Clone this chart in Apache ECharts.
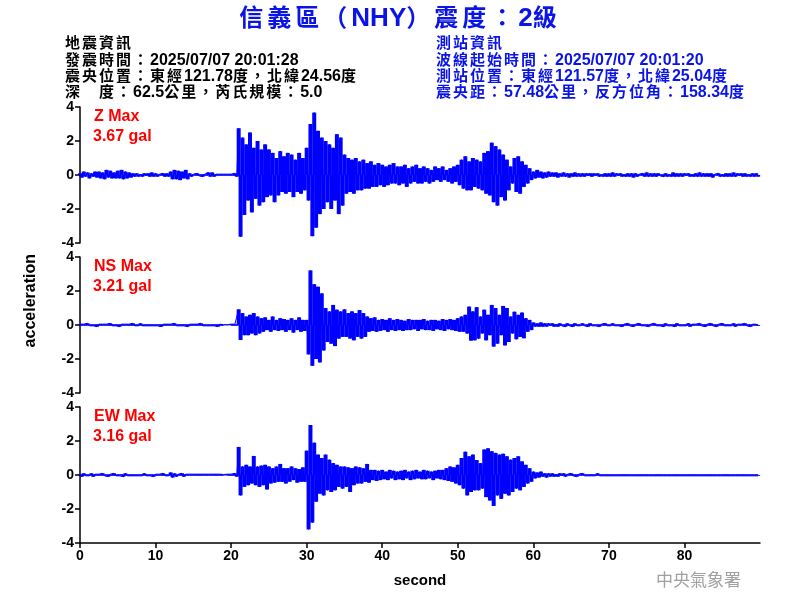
<!DOCTYPE html>
<html>
<head>
<meta charset="utf-8">
<script src="https://cdn.jsdelivr.net/npm/echarts@6/dist/echarts.min.js"></script>
<style>html,body{margin:0;padding:0;background:#fff}#c{width:800px;height:600px}</style>
</head>
<body>
<div id="c"></div>
<script>
// sample spacing of the values below (seconds)
var DT = 0.25;
var xTicks = [0, 10, 20, 30, 40, 50, 60, 70, 80];
var yTicks = [-4, -2, 0, 2, 4];
var panelNames = ['Z Max', 'NS Max', 'EW Max'];
var panelMax = ['3.67 gal', '3.21 gal', '3.16 gal'];

// Z component, one line = 2.5 s
var zValues = [
0.1,-0.15,0.2,-0.1,0.15,-0.2,0.1,-0.1,0.2,-0.15,
0.2,-0.2,0.15,-0.25,0.3,-0.15,0.25,-0.2,0.15,-0.2,
0.25,-0.2,0.3,-0.25,0.2,-0.2,0.15,-0.15,0.1,-0.1,
0.1,-0.1,0.05,-0.1,0.1,-0.05,0.1,-0.1,0.15,-0.1,
0.1,-0.1,0.05,-0.05,0.1,-0.1,0.1,-0.1,0.2,-0.25,
0.3,-0.25,0.25,-0.3,0.2,-0.2,0.3,-0.25,0.1,-0.1,
0.05,-0.05,0.1,-0.05,0.05,-0.1,0.05,-0.05,0.15,-0.1,
0.15,-0.1,0.05,-0.05,0.05,-0.05,0.05,-0.05,0.05,-0.05,
0.05,-0.05,0.1,-0.1,2.75,-3.63,2.2,-2.35,1.8,-1.5,
2.5,-2.2,1.6,-1.4,2.0,-1.8,1.5,-1.6,1.8,-1.3,
1.5,-1.2,1.3,-1.6,1.0,-1.2,1.4,-1.0,1.1,-1.1,
1.3,-1.0,1.2,-1.3,0.9,-1.0,1.3,-1.1,1.0,-0.9,
1.6,-1.5,3.0,-3.6,3.67,-3.1,2.6,-2.3,2.2,-2.0,
2.0,-1.6,1.8,-2.0,1.6,-1.5,2.4,-2.3,2.2,-1.8,
1.2,-1.1,1.0,-1.0,0.9,-1.1,1.0,-0.9,0.8,-0.9,
0.9,-0.8,0.7,-0.8,0.8,-0.7,0.6,-0.7,0.7,-0.6,
0.6,-0.7,0.5,-0.6,0.6,-0.5,0.7,-0.5,0.5,-0.6,
0.5,-0.5,0.6,-0.7,0.4,-0.5,0.5,-0.4,0.6,-0.5,
0.4,-0.5,0.5,-0.4,0.4,-0.5,0.3,-0.4,0.5,-0.3,
0.4,-0.4,0.5,-0.3,0.3,-0.4,0.4,-0.5,0.5,-0.4,
0.6,-0.6,0.9,-0.8,1.1,-0.9,0.8,-0.9,1.0,-0.7,
0.9,-0.8,0.8,-0.9,1.3,-1.1,1.4,-1.2,1.9,-1.6,
1.7,-1.8,1.5,-1.3,1.2,-1.5,0.9,-0.9,0.5,-0.5,
1.0,-1.0,1.1,-1.1,0.8,-0.7,0.6,-0.5,0.4,-0.3,
0.2,-0.2,0.3,-0.15,0.2,-0.2,0.15,-0.15,0.2,-0.1,
0.15,-0.1,0.15,-0.15,0.1,-0.1,0.15,-0.1,0.1,-0.15,
0.1,-0.1,0.15,-0.1,0.1,-0.1,0.1,-0.1,0.1,-0.05,
0.1,-0.1,0.1,-0.05,0.1,-0.1,0.05,-0.1,0.1,-0.1,
0.1,-0.1,0.15,-0.1,0.1,-0.05,0.1,-0.1,0.05,-0.1,
0.1,-0.1,0.1,-0.15,0.1,-0.1,0.05,-0.05,0.1,-0.1,
0.15,-0.1,0.1,-0.1,0.1,-0.1,0.1,-0.05,0.05,-0.1,
0.1,-0.1,0.05,-0.1,0.15,-0.1,0.1,-0.1,0.1,-0.1,
0.1,-0.05,0.1,-0.1,0.05,-0.1,0.1,-0.1,0.15,-0.1,
0.1,-0.1,0.1,-0.1,0.1,-0.15,0.05,-0.05,0.1,-0.1,
0.05,-0.1,0.1,-0.1,0.1,-0.1,0.15,-0.1,0.1,-0.05,
0.1,-0.1,0.1,-0.1,0.05,-0.1,0.1,-0.1,0.1,-0.1
];

// NS component
var nsValues = [
0.05,-0.05,0.05,-0.05,0.1,-0.05,0.05,-0.05,0.05,-0.1,
0.05,-0.05,0.05,-0.05,0.05,-0.05,0.1,-0.05,0.05,-0.05,
0.05,-0.1,0.05,-0.05,0.05,-0.05,0.05,-0.05,0.1,-0.05,
0.05,-0.05,0.1,-0.05,0.05,-0.05,0.05,-0.05,0.05,-0.05,
0.05,-0.05,0.05,-0.1,0.05,-0.05,0.05,-0.05,0.05,-0.05,
0.1,-0.05,0.05,-0.05,0.05,-0.05,0.05,-0.1,0.05,-0.05,
0.05,-0.05,0.05,-0.05,0.1,-0.05,0.05,-0.05,0.05,-0.05,
0.05,-0.05,0.05,-0.1,0.05,-0.05,0.02,-0.02,0.02,-0.02,
0.05,-0.05,0.05,-0.05,0.92,-0.88,0.7,-0.6,0.5,-0.6,
0.6,-0.5,0.7,-0.6,0.5,-0.5,0.4,-0.4,0.45,-0.3,
0.3,-0.4,0.5,-0.3,0.3,-0.35,0.4,-0.3,0.35,-0.4,
0.3,-0.3,0.4,-0.45,0.3,-0.3,0.45,-0.4,0.3,-0.35,
0.3,-1.73,3.21,-2.4,2.4,-2.0,2.25,-2.2,1.86,-1.5,
1.0,-1.0,0.8,-1.1,1.18,-1.24,0.9,-0.8,0.8,-0.7,
0.92,-0.7,0.7,-0.8,0.8,-0.9,0.7,-0.7,0.88,-0.8,
0.7,-0.7,0.5,-0.4,0.4,-0.35,0.45,-0.4,0.3,-0.35,
0.35,-0.3,0.3,-0.4,0.4,-0.3,0.3,-0.35,0.35,-0.3,
0.3,-0.35,0.25,-0.3,0.35,-0.3,0.3,-0.25,0.3,-0.35,
0.3,-0.25,0.35,-0.3,0.25,-0.3,0.3,-0.35,0.3,-0.25,
0.25,-0.3,0.35,-0.35,0.3,-0.25,0.35,-0.3,0.3,-0.35,
0.4,-0.4,0.5,-0.4,0.6,-0.5,1.08,-0.92,0.8,-0.9,
1.05,-0.8,0.5,-0.5,0.9,-0.9,0.6,-0.6,1.18,-1.27,
1.0,-1.1,0.6,-0.6,1.12,-1.2,1.0,-1.0,0.5,-0.5,
0.78,-0.84,0.6,-0.7,0.73,-0.78,0.4,-0.4,0.3,-0.3,
0.15,-0.1,0.1,-0.1,0.15,-0.1,0.1,-0.1,0.1,-0.05,
0.1,-0.1,0.05,-0.1,0.1,-0.05,0.05,-0.1,0.1,-0.05,
0.05,-0.1,0.1,-0.05,0.05,-0.05,0.1,-0.05,0.05,-0.1,
0.1,-0.05,0.05,-0.05,0.05,-0.1,0.05,-0.05,0.1,-0.05,
0.05,-0.05,0.1,-0.05,0.05,-0.05,0.05,-0.1,0.05,-0.05,
0.1,-0.05,0.05,-0.1,0.05,-0.05,0.1,-0.05,0.05,-0.05,
0.05,-0.1,0.05,-0.05,0.1,-0.05,0.05,-0.05,0.05,-0.1,
0.1,-0.05,0.05,-0.05,0.05,-0.1,0.1,-0.05,0.05,-0.05,
0.05,-0.05,0.1,-0.1,0.05,-0.05,0.05,-0.05,0.1,-0.05,
0.05,-0.1,0.05,-0.05,0.1,-0.05,0.05,-0.1,0.05,-0.05,
0.1,-0.05,0.05,-0.05,0.05,-0.05,0.1,-0.1,0.05,-0.05,
0.05,-0.05,0.1,-0.05,0.05,-0.1,0.05,-0.05,0.05,-0.05
];

// EW component
var ewValues = [
0.05,-0.1,0.1,-0.05,0.05,-0.05,0.1,-0.1,0.05,-0.05,
0.05,-0.05,0.1,-0.05,0.05,-0.1,0.05,-0.05,0.1,-0.05,
0.05,-0.05,0.05,-0.1,0.1,-0.05,0.05,-0.05,0.05,-0.05,
0.05,-0.05,0.05,-0.05,0.1,-0.05,0.05,-0.05,0.05,-0.1,
0.05,-0.05,0.05,-0.05,0.1,-0.05,0.05,-0.05,0.15,-0.15,
0.1,-0.1,0.05,-0.05,0.1,-0.1,0.05,-0.05,0.05,-0.05,
0.05,-0.05,0.05,-0.05,0.05,-0.05,0.05,-0.05,0.05,-0.05,
0.05,-0.05,0.05,-0.05,0.05,-0.05,0.03,-0.03,0.05,-0.05,
0.05,-0.05,0.1,-0.1,1.65,-1.2,0.5,-0.7,0.6,-0.6,
0.5,-0.5,1.12,-0.6,0.5,-0.7,0.55,-0.6,0.6,-0.85,
0.5,-0.5,0.4,-0.45,0.5,-0.4,0.65,-0.4,0.4,-0.5,
0.4,-0.4,0.5,-0.3,0.4,-0.45,0.35,-0.4,0.45,-0.4,
1.43,-3.2,2.94,-2.8,1.9,-1.57,1.2,-1.1,1.0,-1.2,
1.2,-0.9,0.9,-1.0,0.7,-0.9,0.6,-0.7,0.5,-0.8,
0.5,-0.7,0.45,-1.0,0.4,-0.6,0.5,-0.5,0.45,-0.5,
0.4,-0.4,0.65,-0.45,0.3,-0.3,0.3,-0.35,0.25,-0.3,
0.3,-0.25,0.2,-0.3,0.3,-0.2,0.25,-0.3,0.2,-0.25,
0.25,-0.3,0.3,-0.2,0.2,-0.3,0.25,-0.25,0.3,-0.2,
0.2,-0.25,0.3,-0.25,0.25,-0.2,0.2,-0.3,0.25,-0.2,
0.3,-0.25,0.3,-0.3,0.4,-0.35,0.5,-0.4,0.45,-0.5,
0.6,-0.6,1.0,-0.8,1.37,-1.2,1.1,-1.0,1.2,-0.9,
0.88,-0.9,0.7,-0.8,1.5,-1.3,1.57,-1.5,1.4,-1.82,
1.3,-1.2,1.2,-1.4,1.25,-1.1,1.1,-1.2,0.9,-1.0,
1.0,-0.8,1.1,-0.9,0.8,-0.7,0.6,-0.5,0.4,-0.4,
0.2,-0.2,0.15,-0.15,0.2,-0.1,0.1,-0.15,0.1,-0.1,
0.1,-0.1,0.05,-0.1,0.1,-0.05,0.1,-0.1,0.05,-0.05,
0.1,-0.05,0.05,-0.1,0.05,-0.05,0.1,-0.05,0.05,-0.05,
0.05,-0.05,0.05,-0.05,0.1,-0.05,0.05,-0.05,0.05,-0.05,
0.05,-0.05,0.05,-0.05,0.05,-0.05,0.05,-0.05,0.05,-0.05,
0.05,-0.05,0.05,-0.05,0.05,-0.05,0.05,-0.05,0.05,-0.05,
0.05,-0.05,0.05,-0.05,0.05,-0.05,0.05,-0.05,0.05,-0.05,
0.05,-0.05,0.05,-0.05,0.05,-0.05,0.05,-0.05,0.05,-0.05,
0.05,-0.05,0.05,-0.05,0.05,-0.05,0.05,-0.05,0.05,-0.05,
0.05,-0.05,0.05,-0.05,0.05,-0.05,0.05,-0.05,0.05,-0.05,
0.05,-0.05,0.05,-0.05,0.05,-0.05,0.05,-0.05,0.05,-0.05,
0.05,-0.05,0.05,-0.05,0.05,-0.05,0.05,-0.05,0.05,-0.05
];

var titleText = '信義區（NHY）震度：2級';
var leftInfo = ['地震資訊', '發震時間：2025/07/07 20:01:28', '震央位置：東經121.78度，北緯24.56度', '深　度：62.5公里，芮氏規模：5.0'];
var rightInfo = ['測站資訊', '波線起始時間：2025/07/07 20:01:20', '測站位置：東經121.57度，北緯25.04度', '震央距：57.48公里，反方位角：158.34度'];

var LATIN = '"Liberation Sans", Arial, sans-serif';
var CJK = '"Noto Sans CJK TC", "Noto Sans CJK SC", sans-serif';

// split a string into tokens for rich text: every CJK char its own token, latin runs grouped (style only)
function richText(str) {
  var out = '', cur = '';
  for (var i = 0; i < str.length; i++) {
    var ch = str[i];
    if (/[\u3000-\u9fff\uff00-\uffef]/.test(ch)) {
      if (cur) { out += '{l|' + cur + '}'; cur = ''; }
      out += '{c|' + ch + '}';
    } else {
      cur += ch;
    }
  }
  if (cur) out += '{l|' + cur + '}';
  return out;
}
function richStyles(cSize, cPad, lSize, color, lh, shift) {
  return {
    c: {fontSize: cSize, fontFamily: CJK, fontWeight: 'bold', fill: color, lineHeight: lh, verticalAlign: 'middle', padding: [0, cPad, shift, 0]},
    l: {fontSize: lSize, fontFamily: LATIN, fontWeight: 'bold', fill: color, lineHeight: lh, verticalAlign: 'middle', padding: [shift, 0, 0, 0]}
  };
}

var traces = [zValues, nsValues, ewValues];
var tops = [107, 257, 407];

var chart = echarts.init(document.getElementById('c'), null, {renderer: 'canvas'});
var grids = [], xAxes = [], yAxes = [], series = [], graphics = [];
for (var k = 0; k < 3; k++) {
  grids.push({left: 80, right: 40, top: tops[k], height: 136});
  var last = (k === 2);
  // visible time axis (index 2k) and a hidden twin (index 2k+1) used for the negative half of the trace
  for (var a = 0; a < 2; a++) {
    xAxes.push({
      type: 'value', gridIndex: k, min: 0, max: 90, interval: 10, show: last && a === 0,
      axisLine: {show: true, onZero: false, lineStyle: {color: '#000', width: 1.5}},
      axisTick: {show: true, length: 5, lineStyle: {color: '#000', width: 1.5}},
      axisLabel: {show: true, showMaxLabel: false, color: '#000', fontWeight: 'bold', fontSize: 14, fontFamily: LATIN, margin: 6},
      splitLine: {show: false},
      name: (last && a === 0) ? 'second' : '', nameLocation: 'middle', nameGap: 30,
      nameTextStyle: {color: '#000', fontWeight: 'bold', fontSize: 15, fontFamily: LATIN}
    });
  }
  yAxes.push({
    type: 'value', gridIndex: k, min: yTicks[0], max: yTicks[yTicks.length - 1], interval: 2,
    axisLine: {show: true, onZero: false, lineStyle: {color: '#000', width: 1.5}},
    axisTick: {show: true, length: 5, lineStyle: {color: '#000', width: 1.5}},
    axisLabel: {color: '#000', fontWeight: 'bold', fontSize: 14, fontFamily: LATIN, margin: 6},
    splitLine: {show: false}
  });
  var vals = traces[k];
  var d = [], pos = [], neg = [];
  for (var i = 0; i < vals.length; i++) {
    var p = [i * DT, vals[i]];
    d.push(p);
    if (vals[i] >= 0) pos.push(p); else neg.push(p);
  }
  series.push({
    type: 'bar', xAxisIndex: 2 * k, yAxisIndex: k, data: pos, barWidth: 4,
    animation: false, itemStyle: {color: '#0000ff'}, silent: true, z: 1
  });
  series.push({
    type: 'bar', xAxisIndex: 2 * k + 1, yAxisIndex: k, data: neg, barWidth: 4,
    animation: false, itemStyle: {color: '#0000ff'}, silent: true, z: 1
  });
  series.push({
    type: 'line', xAxisIndex: 2 * k, yAxisIndex: k, data: d, showSymbol: false, symbol: 'none',
    sampling: null, animation: false, lineStyle: {color: '#0000ff', width: 1}, z: 2, silent: true
  });
  graphics.push({type: 'text', left: 94, top: tops[k] + 2, style: {text: panelNames[k], fill: '#ff0000', font: 'bold 16px ' + LATIN}});
  graphics.push({type: 'text', left: 93, top: tops[k] + 22, style: {text: panelMax[k], fill: '#ff0000', font: 'bold 16px ' + LATIN}});
}

graphics.push({type: 'text', left: 'center', top: 4, style: {text: richText(titleText), rich: richStyles(24, 4, 26, '#0a14e6', 28, 2)}});
for (var j = 0; j < 4; j++) {
  graphics.push({type: 'text', left: 65, top: 35 + j * 16, style: {text: richText(leftInfo[j]), rich: richStyles(15, 2, 16, '#000', 16, 2)}});
  graphics.push({type: 'text', left: 436, top: 35 + j * 16, style: {text: richText(rightInfo[j]), rich: richStyles(15, 2, 16, '#0a14e6', 16, 2)}});
}
graphics.push({type: 'text', left: 23, top: 254, rotation: Math.PI / 2, style: {text: 'acceleration', fill: '#000', font: 'bold 16px ' + LATIN}});
graphics.push({type: 'text', left: 656, top: 571, style: {text: '中央氣象署', fill: '#a0a0a0', font: '17px ' + CJK}});

chart.setOption({
  animation: false,
  backgroundColor: '#fff',
  grid: grids, xAxis: xAxes, yAxis: yAxes, series: series, graphic: graphics
});
</script>
</body>
</html>
